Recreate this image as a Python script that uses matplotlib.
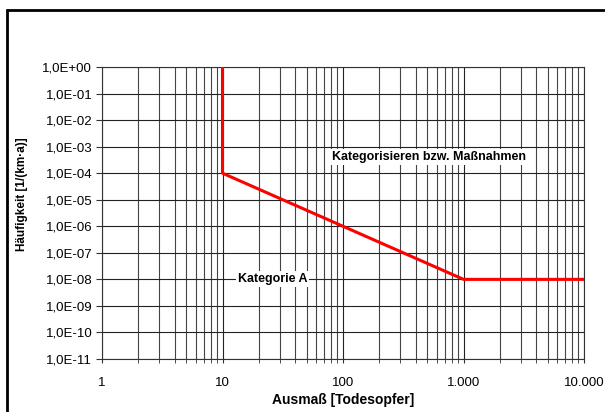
import matplotlib.pyplot as plt
from matplotlib.patches import Rectangle
from matplotlib.ticker import FixedLocator, LogLocator, NullFormatter

plt.rcParams['font.family'] = ['Liberation Sans', 'DejaVu Sans']

# limit curve: Ausmaß [Todesopfer] vs. Häufigkeit [1/(km·a)]
x_line = [10, 10, 1000, 10000]
y_line = [1e0, 1e-4, 1e-8, 1e-8]

x_ticks = [1, 10, 100, 1000, 10000]
x_labels = ['1', '10', '100', '1.000', '10.000']
y_ticks = [10.0 ** e for e in range(0, -12, -1)]
y_labels = ['1,0E+00' if e == 0 else f'1,0E-{-e:02d}' for e in range(0, -12, -1)]

fig = plt.figure(figsize=(6.05, 4.12), dpi=100)
ax = fig.add_axes([102 / 605, 1 - 359 / 412, 482 / 605, 292 / 412])

ax.plot(x_line, y_line, color='#ff0000', lw=2.2, solid_capstyle='butt', zorder=3)

ax.set_xscale('log')
ax.set_yscale('log')
ax.set_xlim(1, 10000)
ax.set_ylim(1e-11, 1e0)

ax.xaxis.set_major_locator(FixedLocator(x_ticks))
ax.set_xticklabels(x_labels)
ax.xaxis.set_minor_locator(LogLocator(base=10, subs=range(2, 10)))
ax.xaxis.set_minor_formatter(NullFormatter())
ax.yaxis.set_major_locator(FixedLocator(y_ticks))
ax.set_yticklabels(y_labels)
ax.yaxis.set_minor_locator(FixedLocator([]))

ax.grid(True, which='major', color='#222222', lw=0.8)
ax.grid(True, which='minor', axis='x', color='#444444', lw=0.8)
ax.tick_params(axis='both', which='both', labelsize=9.5, color='#333333')
ax.tick_params(axis='y', length=4, pad=3)
ax.tick_params(axis='x', which='major', length=3, pad=10)
ax.tick_params(axis='x', which='minor', length=3)
for s in ax.spines.values():
    s.set_color('#333333')
    s.set_linewidth(0.8)

ax.set_xlabel('Ausmaß [Todesopfer]', fontsize=10, fontweight='bold')
ax.set_ylabel('Häufigkeit [1/(km·a)]', fontsize=8.5, fontweight='bold')
ax.xaxis.set_label_coords(0.5, -0.118)
ax.yaxis.set_label_coords(-0.154, 0.565)

box = dict(facecolor='white', edgecolor='none', pad=1.5)
ax.text(520, 4e-4, 'Kategorisieren bzw. Maßnahmen', fontsize=9, fontweight='bold',
        ha='center', va='center', bbox=box, zorder=4)
ax.text(26, 1e-8, 'Kategorie A', fontsize=9, fontweight='bold',
        ha='center', va='center', bbox=box, zorder=4)

# outer chart frame
fig.patches.append(Rectangle((7 / 605, -0.05), 1.1, 1 - 10 / 412 + 0.05,
                             transform=fig.transFigure, fill=False,
                             edgecolor='black', lw=2, zorder=0))

fig.savefig('out.png', dpi=100)
